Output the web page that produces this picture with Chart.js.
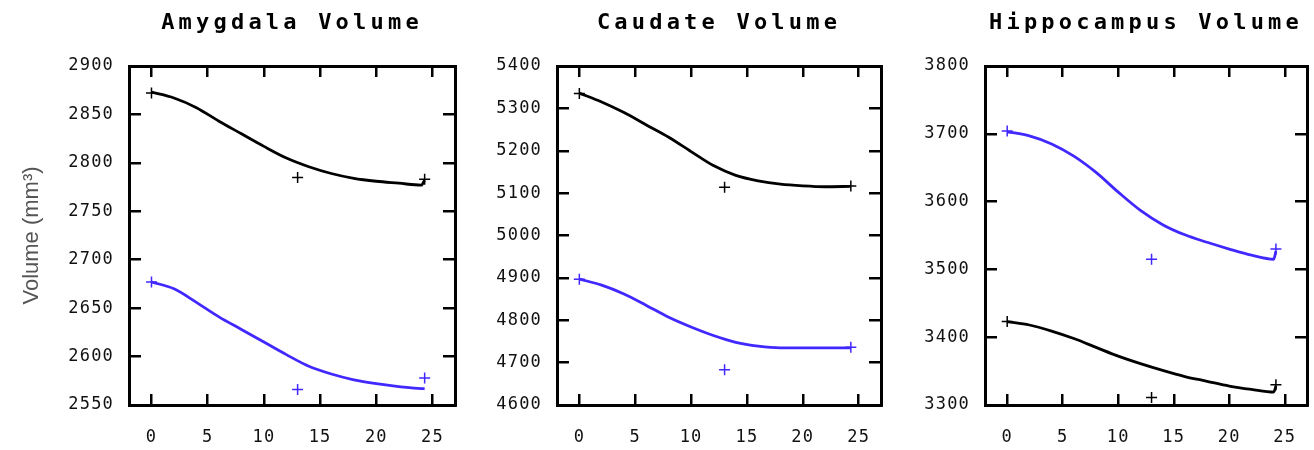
<!DOCTYPE html>
<html>
<head>
<meta charset="utf-8">
<script src="https://cdn.jsdelivr.net/npm/chart.js@4.4.0/dist/chart.umd.min.js"></script>
<style>
  body { margin: 0; background: #fff; }
  canvas { position: absolute; top: 0; }
</style>
</head>
<body>
<canvas id="amyg" width="470" height="450" style="left:0"></canvas>
<canvas id="caud" width="428" height="450" style="left:462px"></canvas>
<canvas id="hipp" width="424" height="450" style="left:890px"></canvas>
<script>
// x axis (same for all three panels)
var xTicks = [0, 5, 10, 15, 20, 25];
var xMin = -2, xMax = 27;

// Amygdala
var amygYTicks = [2550, 2600, 2650, 2700, 2750, 2800, 2850, 2900];
var amygFitX = [0, 2, 4, 6, 8, 10, 12, 14, 16, 18, 20, 22, 24, 24.3];
var amygFitBlack = [2873, 2867, 2857, 2843, 2830, 2817, 2805, 2796, 2789, 2784, 2781, 2779, 2777, 2782];
var amygFitBlue = [2677, 2670, 2656, 2641, 2628, 2615, 2602, 2590, 2582, 2576, 2572, 2569, 2567, 2567];
var amygObsX = [0, 13, 24.3];
var amygObsBlack = [2872, 2785, 2783];
var amygObsBlue = [2677, 2566, 2578];

// Caudate
var caudYTicks = [4600, 4700, 4800, 4900, 5000, 5100, 5200, 5300, 5400];
var caudFitX = [0, 2, 4, 6, 8, 10, 12, 14, 16, 18, 20, 22, 24.3];
var caudFitBlack = [5336, 5315, 5290, 5261, 5232, 5198, 5165, 5142, 5129, 5121, 5117, 5115, 5116];
var caudFitBlue = [4897, 4883, 4862, 4835, 4807, 4784, 4764, 4748, 4739, 4735, 4735, 4735, 4735];
var caudObsX = [0, 13, 24.3];
var caudObsBlack = [5335, 5114, 5117];
var caudObsBlue = [4897, 4683, 4736];

// Hippocampus
var hippYTicks = [3300, 3400, 3500, 3600, 3700, 3800];
var hippFitX = [0, 2, 4, 6, 8, 10, 12, 14, 16, 18, 20, 22, 24, 24.2];
var hippFitBlack = [3423, 3418, 3409, 3398, 3385, 3372, 3361, 3351, 3342, 3335, 3328, 3323, 3319, 3328];
var hippFitBlue = [3703, 3697, 3685, 3667, 3643, 3614, 3587, 3566, 3551, 3540, 3530, 3521, 3515, 3527];
var hippObsX = [0, 13, 24.2];
var hippObsBlack = [3423, 3311, 3330];
var hippObsBlue = [3704, 3515, 3530];

var BLUE = '#4028ff';
var tickFont = { family: 'DejaVu Sans Mono', size: 17 };

function pts(xs, ys) {
  return xs.map(function (x, i) { return { x: x, y: ys[i] }; });
}

// canvas text has no letter-spacing option in Chart.js, so widen title and tick labels here
var spacing = {
  id: 'spacing',
  beforeDraw: function (chart) {
    var ctx = chart.ctx;
    var tb = chart.titleBlock;
    if (tb && !tb._spaced) {
      var draw = tb.draw;
      tb.draw = function () { ctx.save(); ctx.letterSpacing = '4.2px'; draw.apply(tb, arguments); ctx.restore(); };
      tb._spaced = true;
    }
    Object.keys(chart.scales).forEach(function (k) {
      var s = chart.scales[k];
      if (s._spaced) return;
      var dl = s.drawLabels;
      s.drawLabels = function () { ctx.save(); ctx.letterSpacing = '1.2px'; dl.apply(s, arguments); ctx.restore(); };
      s._spaced = true;
    });
  }
};

function noPad(s) {
  s.paddingLeft = s.paddingRight = s.paddingTop = s.paddingBottom = 0;
}

function axis(pos, extra) {
  var horiz = pos === 'top' || pos === 'bottom';
  var a = {
    type: 'linear',
    position: pos,
    grid: { drawOnChartArea: false, tickLength: horiz ? -11 : -12, lineWidth: 2.5, tickWidth: 2.5, color: '#000' },
    border: { color: '#000', width: 3 },
    ticks: { display: false }
  };
  return Object.assign(a, extra);
}

function plain(v) { return String(v); }

function makeChart(id, title, yTicks, yWidth, padRight, fitX, fitBlack, fitBlue, obsX, obsBlack, obsBlue, yTitle) {
  var setX = function (s) { s.ticks = xTicks.map(function (v) { return { value: v }; }); };
  var setY = function (s) { s.ticks = yTicks.map(function (v) { return { value: v }; }); };
  var yMin = yTicks[0], yMax = yTicks[yTicks.length - 1];

  var yAxis = axis('left', {
    min: yMin, max: yMax, afterBuildTicks: setY,
    afterFit: function (s) { s.width = yWidth; noPad(s); }
  });
  yAxis.ticks = { display: true, padding: 27, color: '#111', font: tickFont, callback: plain };
  if (yTitle) {
    yAxis.title = { display: true, text: yTitle, color: '#555',
      font: { family: 'Liberation Sans', size: 22 }, padding: { top: 19, bottom: 0 } };
  }
  var xAxis = axis('bottom', {
    min: xMin, max: xMax, afterBuildTicks: setX,
    afterFit: function (s) { s.height = 45; noPad(s); }
  });
  xAxis.ticks = { display: true, padding: 33, color: '#111', font: tickFont, callback: plain };

  return new Chart(document.getElementById(id), {
    type: 'scatter',
    data: {
      datasets: [
        { data: pts(fitX, fitBlack), showLine: true, borderColor: '#000', borderWidth: 2.8, pointRadius: 0, cubicInterpolationMode: 'monotone' },
        { data: pts(fitX, fitBlue), showLine: true, borderColor: BLUE, borderWidth: 2.8, pointRadius: 0, cubicInterpolationMode: 'monotone' },
        { data: pts(obsX, obsBlack), pointStyle: 'cross', pointRadius: 5.5, pointBorderColor: '#000', pointBorderWidth: 1.5 },
        { data: pts(obsX, obsBlue), pointStyle: 'cross', pointRadius: 5.5, pointBorderColor: BLUE, pointBorderWidth: 1.5 }
      ]
    },
    options: {
      responsive: false,
      animation: false,
      events: [],
      layout: { padding: { left: 0, right: padRight, top: 0, bottom: 0 } },
      scales: {
        x: xAxis,
        x2: axis('top', { min: xMin, max: xMax, afterBuildTicks: setX, afterFit: function (s) { s.height = 0; noPad(s); } }),
        y: yAxis,
        y2: axis('right', { min: yMin, max: yMax, afterBuildTicks: setY, afterFit: function (s) { s.width = 0; noPad(s); } })
      },
      plugins: {
        legend: { display: false },
        tooltip: { enabled: false },
        title: {
          display: true, text: title, fullSize: false, color: '#000',
          font: { family: 'DejaVu Sans Mono', size: 22, weight: 'bold' },
          padding: { top: 10, bottom: 29.6 }
        }
      }
    },
    plugins: [spacing]
  });
}

makeChart('amyg', 'Amygdala Volume', amygYTicks, 129, 15, amygFitX, amygFitBlack, amygFitBlue, amygObsX, amygObsBlack, amygObsBlue, 'Volume (mm³)');
makeChart('caud', 'Caudate Volume', caudYTicks, 95, 9, caudFitX, caudFitBlack, caudFitBlue, caudObsX, caudObsBlack, caudObsBlue);
makeChart('hipp', 'Hippocampus Volume', hippYTicks, 95, 7, hippFitX, hippFitBlack, hippFitBlue, hippObsX, hippObsBlack, hippObsBlue);
</script>
</body>
</html>
